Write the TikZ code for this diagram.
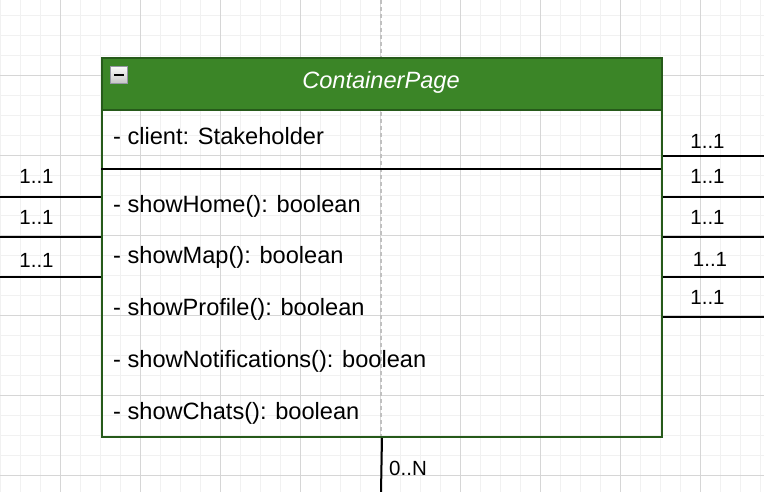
\documentclass[tikz,border=0pt]{standalone}
\usepackage{fontspec}
\setmainfont{Liberation Sans}
\definecolor{hdrfill}{RGB}{59,133,39}
\definecolor{hdrline}{RGB}{38,90,26}
\definecolor{gminor}{RGB}{241,241,241}
\definecolor{gmajor}{RGB}{214,214,214}
\definecolor{guide}{RGB}{192,192,192}
\definecolor{iconline}{RGB}{150,150,165}
\begin{document}
\begin{tikzpicture}[x=1pt,y=-1pt,
  minorgrid/.style={gminor, line width=1pt},
  majorgrid/.style={gmajor, line width=1pt},
  guideline/.style={guide, line width=1.2pt, dash pattern=on 4pt off 3pt},
  conn/.style={black, line width=2pt},
  member/.style={anchor=base west, inner sep=0pt, font=\fontsize{23.6}{28}\selectfont},
  mult/.style={anchor=base, inner sep=0pt, font=\fontsize{20.5}{24}\selectfont},
]
\useasboundingbox (0,0) rectangle (764,492);
\fill[white] (0,0) rectangle (764,492);
% grid
\foreach \x in {0,20,...,760} \draw[minorgrid] (\x,0) -- (\x,492);
\foreach \y in {15.5,35.5,...,492} \draw[minorgrid] (0,\y) -- (764,\y);
\foreach \x in {60,140,...,700} \draw[majorgrid] (\x,0) -- (\x,492);
\foreach \y in {75.5,155.5,...,476} \draw[majorgrid] (0,\y) -- (764,\y);
% guide
\coordinate (gtop) at (381,0);
\coordinate (gbot) at (381,436);
\draw[guideline] (gtop) -- (gbot);

% class box
\node[draw=hdrline, line width=2pt, minimum width=560pt, minimum height=379pt,
      anchor=north west, inner sep=0pt] (cls) at (101,57) {};
\node[fill=hdrfill, draw=hdrline, line width=2pt, minimum width=560pt, minimum height=52pt,
      anchor=north west, inner sep=0pt] (hdr) at (101,57) {};
\node[anchor=base, inner sep=0pt, text=white, font=\fontsize{23.6}{28}\selectfont\itshape]
      (title) at (381,88.3) {ContainerPage};
% collapse icon
\node[draw=iconline, line width=1.5pt, top color=white!96!gray, bottom color=gray!45,
      minimum width=17pt, minimum height=17pt, inner sep=0pt] (icon) at (119,75) {};
\draw[black, line width=2.2pt] ([xshift=-5pt]icon.center) -- ([xshift=5pt]icon.center);
% separator
\coordinate (sepL) at (101,169);
\coordinate (sepR) at (661,169);
\draw[conn] (sepL) -- (sepR);

% members
\node[member] (m1) at (113,145) {- client: Stakeholder};
\node[member] (m2) at (113,212.5) {- showHome(): boolean};
\node[member] (m3) at (113,264) {- showMap(): boolean};
\node[member] (m4) at (113,315.5) {- showProfile(): boolean};
\node[member] (m5) at (113,367.3) {- showNotifications(): boolean};
\node[member] (m6) at (113,419.5) {- showChats(): boolean};

% left connectors
\coordinate (L1) at (0,197);
\coordinate (L2) at (0,237);
\coordinate (L3) at (0,277);
\draw[conn] (L1) -- (L1 -| cls.west);
\draw[conn] (L2) -- (L2 -| cls.west);
\draw[conn] (L3) -- (L3 -| cls.west);
\node[mult] (lm1) at (36.5,184) {1..1};
\node[mult] (lm2) at (36.5,225) {1..1};
\node[mult] (lm3) at (36.5,268) {1..1};

% right connectors
\coordinate (R1) at (764,156);
\coordinate (R2) at (764,196.7);
\coordinate (R3) at (764,236.7);
\coordinate (R4) at (764,276.7);
\coordinate (R5) at (764,316.7);
\foreach \r in {R1,R2,R3,R4,R5} \draw[conn] (\r -| cls.east) -- (\r);
\node[mult] (rm1) at (707.5,148.3) {1..1};
\node[mult] (rm2) at (707.5,183.3) {1..1};
\node[mult] (rm3) at (707.5,225) {1..1};
\node[mult] (rm4) at (710,266.7) {1..1};
\node[mult] (rm5) at (707.5,305) {1..1};

% bottom connector
\coordinate (B) at (381,492);
\draw[conn] (cls.south) -- (B);
\node[mult] (bm) at (408,475) {0..N};
\end{tikzpicture}
\end{document}
